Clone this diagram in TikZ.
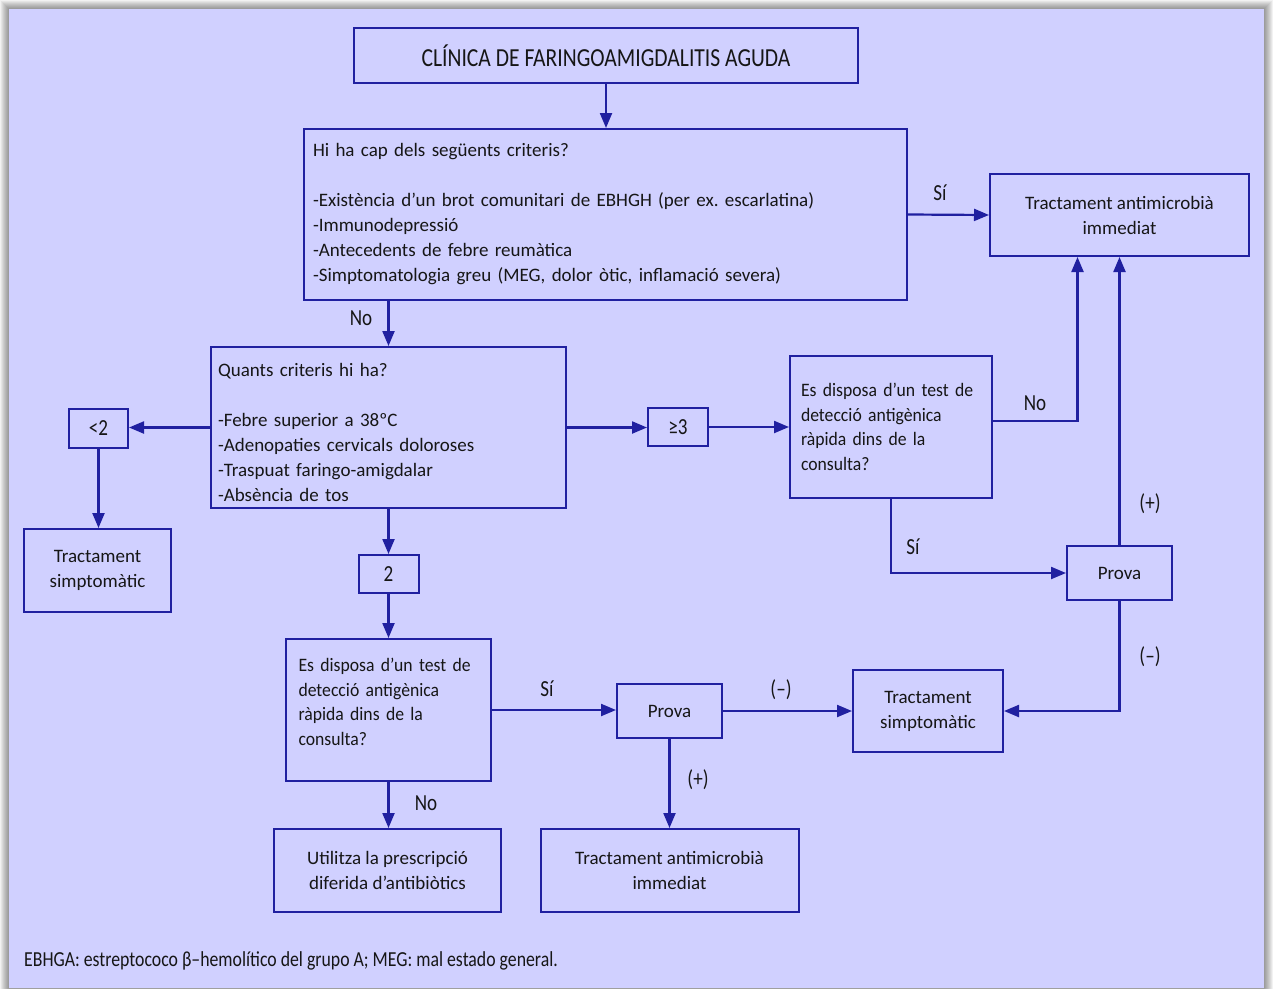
\documentclass[tikz,border=0pt]{standalone}
\usepackage{fontspec}
\setmainfont{Carlito}
\newfontfamily\condfont[FakeStretch=0.83]{Carlito}
\newfontfamily\narrowfont[FakeStretch=0.93]{Carlito}
\usetikzlibrary{arrows.meta, positioning, calc}
\definecolor{panel}{HTML}{D0D0FF}
\definecolor{edge}{HTML}{2020A0}
\definecolor{ink}{HTML}{161616}
\frenchspacing

\begin{document}
\begin{tikzpicture}[x=1pt, y=-1pt,
  box/.style={draw=edge, line width=2pt, fill=panel, text=ink, inner sep=0pt,
    align=center, font=\fontsize{19}{25}\selectfont},
  listbox/.style={box, align=left},
  testbox/.style={listbox, font=\narrowfont\fontsize{19}{24.5}\selectfont},
  smallbox/.style={box, font=\condfont\fontsize{23}{24}\selectfont},
  lbl/.style={text=ink, inner sep=0pt, font=\condfont\fontsize{23}{24}\selectfont},
  conn/.style={draw=edge, line width=2.2pt, -{Triangle[length=15pt,width=12pt]}}]
\useasboundingbox (0,0) rectangle (1274,988);
\fill[white] (0,0) rectangle (1274,988);
\foreach \i in {1,...,9}
  \fill[black, opacity=0.05] (9-\i,9-\i) rectangle (1264+\i,990);
\fill[panel] (9,9) rectangle (1264,988);

\node[box, minimum width=504, minimum height=55, font=\condfont\fontsize{26}{28}\selectfont]
  (title) at (606,55.5) {CLÍNICA DE FARINGOAMIGDALITIS AGUDA};
\node[listbox, minimum width=603, minimum height=171, text width=585] (crit1) at (605.5,214.5)
  {Hi ha cap dels següents criteris?\\[25pt]
   -Existència d'un brot comunitari de EBHGH (per ex. escarlatina)\\
   -Immunodepressió\\
   -Antecedents de febre reumàtica\\
   -Simptomatologia greu (MEG, dolor òtic, inflamació severa)};
\node[box, minimum width=259, minimum height=82] (tam1) at (1119.5,215)
  {Tractament antimicrobià\\immediat};
\node[listbox, minimum width=355, minimum height=161, text width=341] (crit2) at (388.5,427.5)
  {\rule{0pt}{24pt}Quants criteris hi ha?\\[25pt]
   -Febre superior a 38ºC\\
   -Adenopaties cervicals doloroses\\
   -Traspuat faringo-amigdalar\\
   -Absència de tos};
\node[smallbox, minimum width=59, minimum height=39] (lt2) at (98.5,428) {<2};
\node[box, minimum width=147, minimum height=83] (tsl) at (97.5,570.5) {Tractament\\simptomàtic};
\node[smallbox, minimum width=60, minimum height=38] (ge3) at (678,427) {≥3};
\node[testbox, minimum width=202, minimum height=142, text width=180] (test1) at (891,427)
  {Es disposa d’un test de\\detecció antigènica\\ràpida dins de la\\consulta?};
\node[box, minimum width=105, minimum height=54] (prova1) at (1119.5,573) {Prova};
\node[box, minimum width=150, minimum height=82] (tsr) at (928,711) {Tractament\\simptomàtic};
\node[smallbox, minimum width=60, minimum height=38] (two) at (388.5,574) {2};
\node[testbox, minimum width=205, minimum height=142, text width=180] (test2) at (388.5,710)
  {Es disposa d’un test de\\detecció antigènica\\ràpida dins de la\\consulta?\rule[-16pt]{0pt}{16pt}};
\node[box, minimum width=105, minimum height=54] (prova2) at (669.5,711) {Prova};
\node[box, minimum width=258, minimum height=83] (tam2) at (669.5,870.5)
  {Tractament antimicrobià\\immediat};
\node[box, minimum width=227, minimum height=83] (util) at (387.5,870.5)
  {Utilitza la prescripció\\diferida d’antibiòtics};

\draw[conn] (title.south) -- (title.south |- crit1.north);
\draw[conn] (crit1.east) -- (tam1.west);
\draw[conn] (crit1.south -| crit2.north) -- (crit2.north);
\draw[conn] (crit2.west) -- (crit2.west -| lt2.east);
\draw[conn] (lt2.south) -- (lt2.south |- tsl.north);
\draw[conn] (crit2.east) -- (crit2.east -| ge3.west);
\draw[conn] (ge3.east) -- (test1.west);
\draw[conn] ([yshift=6pt]test1.east) -| ([xshift=-42pt]tam1.south);
\draw[conn] (test1.south) |- (prova1.west);
\draw[conn] (prova1.north) -- (tam1.south);
\draw[conn] (prova1.south) |- (tsr.east);
\draw[conn] (crit2.south) -- (two.north);
\draw[conn] (two.south) -- (test2.north);
\draw[conn] (test2.east) -- (test2.east -| prova2.west);
\draw[conn] (prova2.east) -- (prova2.east -| tsr.west);
\draw[conn] (prova2.south) -- (prova2.south |- tam2.north);
\draw[conn] (test2.south) -- (test2.south |- util.north);

\node[lbl] (siA) at (940,193) {Sí};
\node[lbl] (noA) at (361,318) {No};
\node[lbl] (noB) at (1035,403) {No};
\node[lbl] (siB) at (913,547) {Sí};
\node[lbl] (posA) at (1150,504) {(+)};
\node[lbl] (negA) at (1150,657) {(–)};
\node[lbl] (siC) at (547,689) {Sí};
\node[lbl] (negB) at (781,690) {(–)};
\node[lbl] (posB) at (698,780) {(+)};
\node[lbl] (noC) at (426,803) {No};

\node[anchor=west, inner sep=0pt, text=ink, font=\condfont\fontsize{21.4}{24}\selectfont]
  (note) at (24,961) {EBHGA: estreptococo β–hemolítico del grupo A; MEG: mal estado general.};
\end{tikzpicture}
\end{document}
